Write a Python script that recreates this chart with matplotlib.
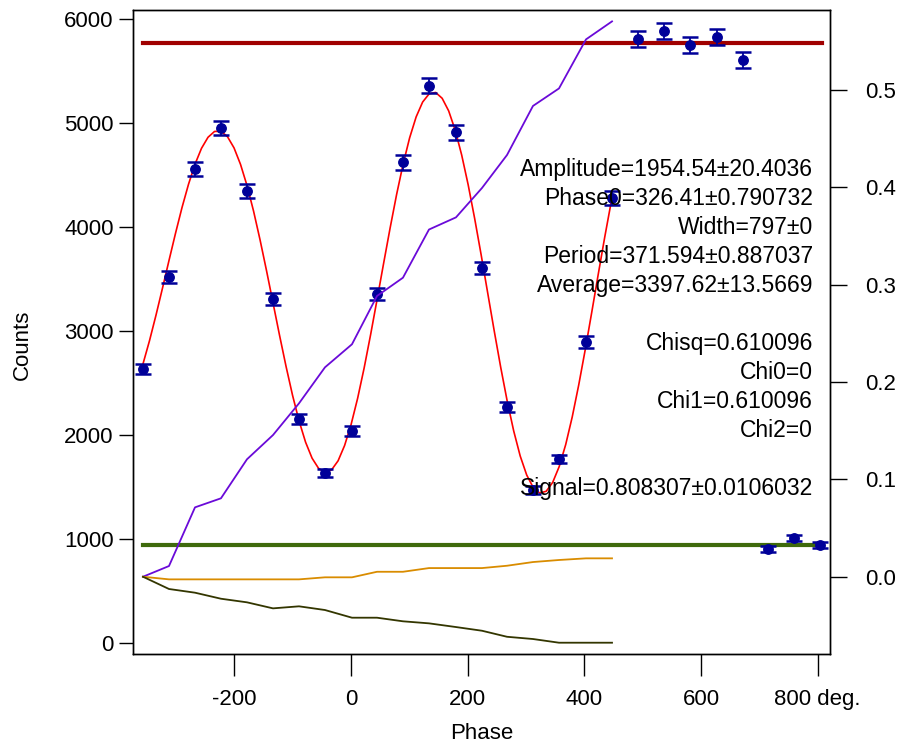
import matplotlib
matplotlib.use("Agg")
import matplotlib.pyplot as plt

plt.rcParams['font.family'] = ['Liberation Sans', 'DejaVu Sans']

# ---- data ----
phase = [-356.6, -312.0, -267.4, -222.9, -178.3, -133.7, -89.1, -44.6, 1.7,
         44.6, 89.1, 133.7, 180.0, 224.6, 267.5, 312.0, 356.6, 402.9, 447.5,
         492.0, 536.6, 581.2, 627.5, 672.0, 715.0, 759.5, 804.0]
counts = [2637, 3522, 4561, 4955, 4349, 3311, 2157, 1638, 2041,
          3363, 4624, 5363, 4913, 3609, 2272, 1470, 1772, 2897, 4282,
          5810, 5887, 5753, 5830, 5608, 907, 1013, 945]
count_err = [51, 59, 68, 70, 66, 58, 46, 40, 45,
             58, 68, 73, 70, 60, 48, 38, 42, 54, 65,
             76, 77, 76, 76, 75, 30, 32, 31]

fit_x = [-356.6, -345.45, -334.3, -323.15, -312.0, -300.85, -289.7, -278.55,
         -267.4, -256.25, -245.1, -233.95, -222.8, -211.65, -200.5, -189.35,
         -178.2, -167.05, -155.9, -144.75, -133.6, -122.45, -111.3, -100.15,
         -89.0, -77.85, -66.7, -55.55, -44.4, -33.25, -22.1, -10.95, 0.2, 11.35,
         22.5, 33.65, 44.8, 55.95, 67.1, 78.25, 89.4, 100.55, 111.7, 122.85,
         134.0, 145.15, 156.3, 167.45, 178.6, 189.75, 200.9, 212.05, 223.2,
         234.35, 245.5, 256.65, 267.8, 278.95, 290.1, 301.25, 312.4, 323.55,
         334.7, 345.85, 357.0, 368.15, 379.3, 390.45, 401.6, 412.75, 423.9,
         435.05, 446.2]
fit_y = [2686, 2909, 3155, 3415, 3681, 3942, 4190, 4414, 4607, 4760, 4866, 4922,
         4924, 4871, 4764, 4605, 4401, 4157, 3880, 3582, 3272, 2961, 2662, 2384,
         2138, 1934, 1780, 1682, 1644, 1668, 1755, 1902, 2104, 2355, 2646, 2968,
         3308, 3654, 3994, 4317, 4609, 4861, 5062, 5205, 5284, 5297, 5241, 5120,
         4936, 4696, 4409, 4084, 3734, 3370, 3006, 2655, 2329, 2042, 1801, 1618,
         1498, 1445, 1462, 1548, 1700, 1912, 2177, 2485, 2824, 3183, 3549, 3907,
         4247]

trace_x = phase[:19]
purple_vals = [0.0, 0.011, 0.0713, 0.0806, 0.1207, 0.1456, 0.1782, 0.2152, 0.2389,
               0.2885, 0.3073, 0.3568, 0.3693, 0.3995, 0.4334, 0.4838, 0.5018,
               0.5522, 0.5707]
orange_vals = [0.0, -0.0027, -0.0027, -0.0027, -0.0027, -0.0027, -0.0027, -0.0006,
               -0.0006, 0.0051, 0.0051, 0.0089, 0.0089, 0.0089, 0.0113, 0.0151,
               0.0172, 0.0189, 0.0189]
olive_vals = [0.0, -0.0126, -0.0164, -0.0226, -0.0263, -0.0325, -0.0304, -0.0342,
              -0.0421, -0.0421, -0.0458, -0.0479, -0.0517, -0.0555, -0.0617,
              -0.0640, -0.0678, -0.0678, -0.0678]

hline_x = [-356.6, 808.0]
high_level = 5775
low_level = 948

x_ticks = [-200, 0, 200, 400, 600, 800]
x_tick_labels = ['-200', '0', '200', '400', '600', '800 deg.']
y_ticks = [0, 1000, 2000, 3000, 4000, 5000, 6000]
y2_ticks = [0.0, 0.1, 0.2, 0.3, 0.4, 0.5]
y2_tick_labels = ['0.0', '0.1', '0.2', '0.3', '0.4', '0.5']

fit_text = ["Amplitude=1954.54\u00b120.4036", "Phase0=326.41\u00b10.790732",
            "Width=797\u00b10", "Period=371.594\u00b10.887037",
            "Average=3397.62\u00b113.5669", "", "Chisq=0.610096", "Chi0=0",
            "Chi1=0.610096", "Chi2=0", "", "Signal=0.808307\u00b10.0106032"]

# ---- figure ----
W, H = 900, 747
fig = plt.figure(figsize=(W / 100, H / 100), dpi=100)
ax = fig.add_axes([133 / W, 93 / H, 697 / W, 644 / H])
ax2 = ax.twinx()

ax.set_xlim(-373.7, 821.2)
ax.set_ylim(-103, 6090)
ax2.set_ylim(-0.0794, 0.5824)

# horizontal reference lines
ax.plot(hline_x, [high_level, high_level], color='#a00000', lw=3.0, zorder=2)
ax.plot(hline_x, [low_level, low_level], color='#3f6a0c', lw=3.0, zorder=2)

# fit curve
ax.plot(fit_x, fit_y, color='#ff0000', lw=1.2, zorder=3)

# data points with error bars
ax.errorbar(phase, counts, yerr=count_err, fmt='o', color='#000099',
            ms=6.8, capsize=6, elinewidth=1.3, capthick=1.8, zorder=4)

# right-axis traces
ax2.plot(trace_x, purple_vals, color='#6a0ad8', lw=1.3)
ax2.plot(trace_x, orange_vals, color='#d98c00', lw=1.3)
ax2.plot(trace_x, olive_vals, color='#333600', lw=1.3)

# ticks
ax.set_xticks(x_ticks)
ax.set_xticklabels(x_tick_labels)
ax.set_yticks(y_ticks)
ax2.set_yticks(y2_ticks)
ax2.set_yticklabels(y2_tick_labels)

ax.tick_params(axis='x', direction='out', length=16, width=1, labelsize=16, pad=9)
ax.tick_params(axis='y', direction='out', length=10, width=1, labelsize=16, pad=4)
ax2.tick_params(axis='y', direction='out', length=12, width=1, labelsize=16, pad=13)

for a in (ax, ax2):
    for s in a.spines.values():
        s.set_linewidth(1.0)

ax.set_xlabel('Phase', fontsize=16)
ax.xaxis.set_label_coords(0.5, -0.107)
ax.set_ylabel('Counts', fontsize=16)
ax.yaxis.set_label_coords(-0.143, 0.48)

# fit annotation
x_right = 813 / W
y0 = 175.7
step = 29.0
for i, line in enumerate(fit_text):
    if line:
        fig.text(x_right, (H - (y0 + i * step)) / H, line, ha='right',
                 va='baseline', fontsize=16.5, color='black', zorder=10)

fig.savefig('out.png', dpi=100)
